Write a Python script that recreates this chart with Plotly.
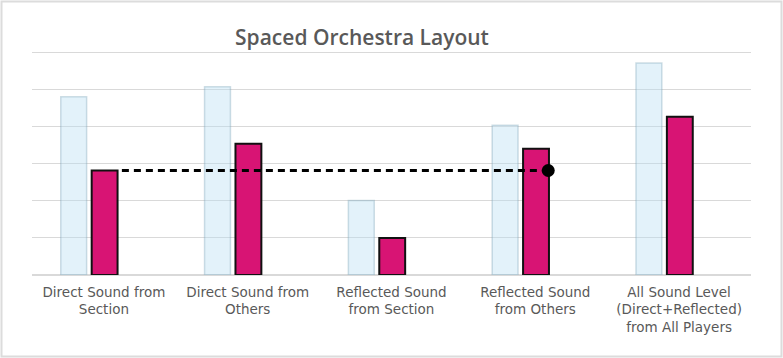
import plotly.graph_objects as go

categories = [
    "Direct Sound from<br>Section",
    "Direct Sound from<br>Others",
    "Reflected Sound<br>from Section",
    "Reflected Sound<br>from Others",
    "All Sound Level<br>(Direct+Reflected)<br>from All Players",
]
reference_values = [4.81, 5.08, 2.01, 4.04, 5.72]
spaced_values = [2.82, 3.54, 1.0, 3.41, 4.27]
y_ticks = [0, 1, 2, 3, 4, 5, 6]

x_pos = list(range(len(categories)))
BAR_W = 0.18
REF_OFF = -0.30
SPC_OFF = -0.085

fig = go.Figure()
fig.add_trace(go.Bar(
    x=x_pos, y=reference_values, width=BAR_W, offset=REF_OFF,
    marker=dict(color="rgba(186,222,242,0.4)",
                line=dict(color="rgba(120,160,180,0.35)", width=1.5)),
    showlegend=False, hoverinfo="skip",
))
fig.add_trace(go.Bar(
    x=x_pos, y=spaced_values, width=BAR_W, offset=SPC_OFF,
    marker=dict(color="#d81474", line=dict(color="#111111", width=2)),
    showlegend=False, hoverinfo="skip",
))
# reference level line from first spaced bar to the fourth spaced bar
line_x = [x_pos[0] + SPC_OFF + BAR_W + 0.03, x_pos[3] + SPC_OFF + BAR_W - 0.005]
line_y = [spaced_values[0], spaced_values[0]]
fig.add_trace(go.Scatter(
    x=line_x, y=line_y, mode="lines",
    line=dict(color="#000000", width=3, dash="7px,5px"),
    showlegend=False, hoverinfo="skip",
))
fig.add_trace(go.Scatter(
    x=[line_x[1]], y=[line_y[1]], mode="markers",
    marker=dict(color="#000000", size=13),
    showlegend=False, hoverinfo="skip",
))

L, R, T, B = 32, 32, 49, 83
W, H = 783, 358
pw, ph = W - L - R, H - T - B

fig.update_layout(
    width=W, height=H,
    margin=dict(l=L, r=R, t=T, b=B),
    paper_bgcolor="#ffffff", plot_bgcolor="#ffffff",
    barmode="overlay",
    font=dict(family="DejaVu Sans", color="#595959"),
    title=dict(
        text="Spaced Orchestra Layout",
        x=362 / W, xref="container", xanchor="center",
        y=1 - 37.5 / H, yref="container", yanchor="middle",
        font=dict(size=21, color="#595959", family="Open Sans", weight=600),
    ),
    xaxis=dict(
        range=[-0.5, 4.5], tickvals=x_pos, ticktext=categories,
        showgrid=False, zeroline=False, showline=False, ticks="",
        tickfont=dict(size=13.5, color="#595959"),
        ticklabelstandoff=7,
    ),
    yaxis=dict(
        range=[0, 6.1], tickvals=y_ticks, showticklabels=False,
        showgrid=True, gridcolor="#d9d9d9", gridwidth=1,
        zeroline=True, zerolinecolor="#d9d9d9", zerolinewidth=1.5,
        showline=False, ticks="",
    ),
    shapes=[dict(
        type="rect", xref="paper", yref="paper",
        x0=(1.5 - L) / pw, x1=(W - 1.5 - L) / pw,
        y0=-(B - 1.5) / ph, y1=1 + (T - 1.5) / ph,
        line=dict(color="#dcdcdc", width=2), fillcolor="rgba(0,0,0,0)",
        layer="below",
    )],
)

fig.write_html("out.html", config={"displayModeBar": False},
               post_script="document.body.style.margin='0';")
